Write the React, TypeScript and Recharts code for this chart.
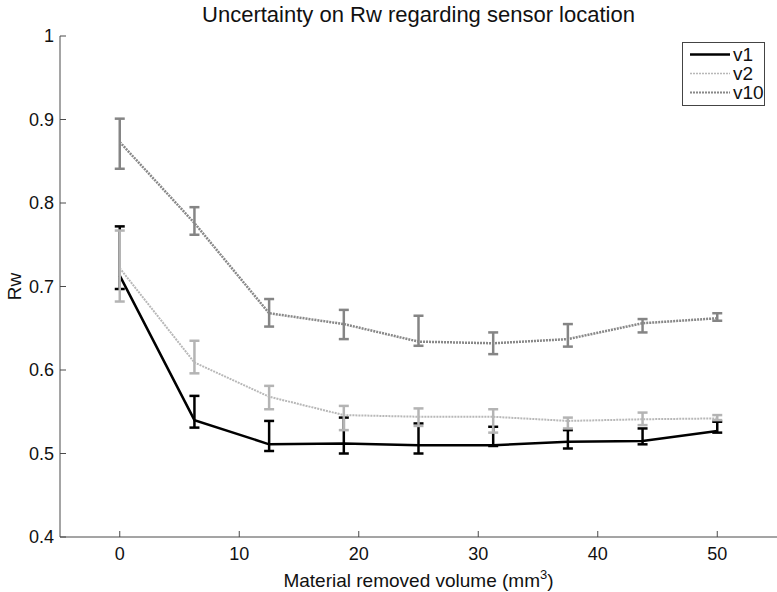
import React from 'react'
import { LineChart, Line, XAxis, YAxis, ErrorBar } from 'recharts'

const FONT = '"Liberation Sans", Arial, Helvetica, sans-serif'

// material removed volume (mm^3)
const volumes = [0, 6.25, 12.5, 18.75, 25, 31.25, 37.5, 43.75, 50]

const v1Mean = [0.713, 0.54, 0.511, 0.512, 0.51, 0.51, 0.514, 0.515, 0.527]
const v1Low = [0.697, 0.531, 0.503, 0.5, 0.5, 0.509, 0.506, 0.511, 0.525]
const v1High = [0.772, 0.569, 0.539, 0.543, 0.536, 0.532, 0.528, 0.53, 0.538]

const v2Mean = [0.722, 0.609, 0.568, 0.546, 0.544, 0.544, 0.539, 0.541, 0.542]
const v2Low = [0.682, 0.596, 0.553, 0.528, 0.533, 0.525, 0.53, 0.534, 0.54]
const v2High = [0.767, 0.635, 0.581, 0.557, 0.554, 0.553, 0.543, 0.549, 0.546]

const v10Mean = [0.873, 0.776, 0.668, 0.655, 0.634, 0.632, 0.637, 0.656, 0.662]
const v10Low = [0.841, 0.762, 0.652, 0.637, 0.629, 0.619, 0.628, 0.645, 0.659]
const v10High = [0.901, 0.795, 0.685, 0.672, 0.665, 0.645, 0.655, 0.661, 0.668]

const xTicks = [0, 10, 20, 30, 40, 50]
const yTicks = [0.4, 0.5, 0.6, 0.7, 0.8, 0.9, 1]

const data = volumes.map((x, i) => ({
  x,
  v1: v1Mean[i],
  v1Err: [v1Mean[i] - v1Low[i], v1High[i] - v1Mean[i]],
  v2: v2Mean[i],
  v2Err: [v2Mean[i] - v2Low[i], v2High[i] - v2Mean[i]],
  v10: v10Mean[i],
  v10Err: [v10Mean[i] - v10Low[i], v10High[i] - v10Mean[i]],
}))

const AXIS = '#4a4a4a'

function XTick({ x, y, payload }: any) {
  return (
    <g>
      <line x1={x} x2={x} y1={y} y2={y - 6} stroke={AXIS} strokeWidth={1} />
      <text x={x} y={y + 23} textAnchor="middle" fontSize={18} fill="#111" fontFamily={FONT}>
        {payload.value}
      </text>
    </g>
  )
}

function YTick({ x, y, payload }: any) {
  const v = payload.value
  return (
    <g>
      <line x1={x} x2={x + 6} y1={y} y2={y} stroke={AXIS} strokeWidth={1} />
      <text x={x - 6} y={y} dy={6} textAnchor="end" fontSize={18} fill="#111" fontFamily={FONT}>
        {v === 1 ? '1' : v.toFixed(1)}
      </text>
    </g>
  )
}

const legendItems = [
  { name: 'v1', color: '#000', dash: undefined, width: 2.5 },
  { name: 'v2', color: '#b8b8b8', dash: '2 1', width: 1.5 },
  { name: 'v10', color: '#888', dash: '2 1', width: 2 },
]

export default function App() {
  return (
    <div style={{ position: 'absolute', left: 0, top: 0, width: 777, height: 592, background: '#fff', fontFamily: FONT }}>
      <div
        style={{
          position: 'absolute',
          left: 60,
          width: 717,
          top: 2,
          textAlign: 'center',
          fontSize: 22,
          color: '#111',
        }}
      >
        Uncertainty on Rw regarding sensor location
      </div>
      <LineChart width={777} height={592} data={data} margin={{ top: 36, right: 0, left: 0, bottom: 0 }}>
        <XAxis
          dataKey="x"
          type="number"
          domain={[-5, 55]}
          ticks={xTicks}
          tick={<XTick />}
          tickLine={false}
          tickSize={0}
          tickMargin={0}
          height={55}
          stroke={AXIS}
          label={{
            content: ({ viewBox }: any) => (
              <text
                x={viewBox.x + viewBox.width / 2}
                y={viewBox.y + 50}
                textAnchor="middle"
                fontSize={19}
                fill="#111"
                fontFamily={FONT}
              >
                Material removed volume (mm
                <tspan fontSize={13} dy={-8}>3</tspan>
                <tspan dy={8}>)</tspan>
              </text>
            ),
          }}
        />
        <YAxis
          type="number"
          domain={[0.4, 1]}
          ticks={yTicks}
          tick={<YTick />}
          tickLine={false}
          tickSize={0}
          tickMargin={0}
          width={60}
          stroke={AXIS}
          label={{
            content: ({ viewBox }: any) => {
              const cx = viewBox.x + 14
              const cy = viewBox.y + viewBox.height / 2
              return (
                <text
                  x={cx}
                  y={cy}
                  transform={`rotate(-90 ${cx} ${cy})`}
                  textAnchor="middle"
                  dominantBaseline="central"
                  fontSize={19}
                  fill="#111"
                  fontFamily={FONT}
                >
                  Rw
                </text>
              )
            },
          }}
        />
        <Line dataKey="v1" stroke="#000" strokeWidth={2.5} dot={false} isAnimationActive={false}>
          <ErrorBar dataKey="v1Err" direction="y" width={5} stroke="#000" strokeWidth={2.5} isAnimationActive={false} />
        </Line>
        <Line
          dataKey="v2"
          stroke="#b8b8b8"
          strokeWidth={2}
          strokeDasharray="2 1"
          dot={false}
          isAnimationActive={false}
        >
          <ErrorBar dataKey="v2Err" direction="y" width={5} stroke="#b4b4b4" strokeWidth={2.5} isAnimationActive={false} />
        </Line>
        <Line
          dataKey="v10"
          stroke="#888"
          strokeWidth={2.5}
          strokeDasharray="2 1"
          dot={false}
          isAnimationActive={false}
        >
          <ErrorBar dataKey="v10Err" direction="y" width={5} stroke="#858585" strokeWidth={2.5} isAnimationActive={false} />
        </Line>
      </LineChart>
      <div
        style={{
          position: 'absolute',
          left: 682,
          top: 42,
          width: 83,
          height: 64,
          border: '1px solid #444',
          background: '#fff',
          boxSizing: 'border-box',
          paddingTop: 2,
        }}
      >
        {legendItems.map((it) => (
          <div key={it.name} style={{ display: 'flex', alignItems: 'center', height: 19 }}>
            <svg width={50} height={19} style={{ flex: 'none' }}>
              <line
                x1={7}
                x2={47}
                y1={9.5}
                y2={9.5}
                stroke={it.color}
                strokeWidth={it.width}
                strokeDasharray={it.dash}
              />
            </svg>
            <span style={{ fontSize: 19, color: '#111', lineHeight: '19px' }}>{it.name}</span>
          </div>
        ))}
      </div>
    </div>
  )
}
